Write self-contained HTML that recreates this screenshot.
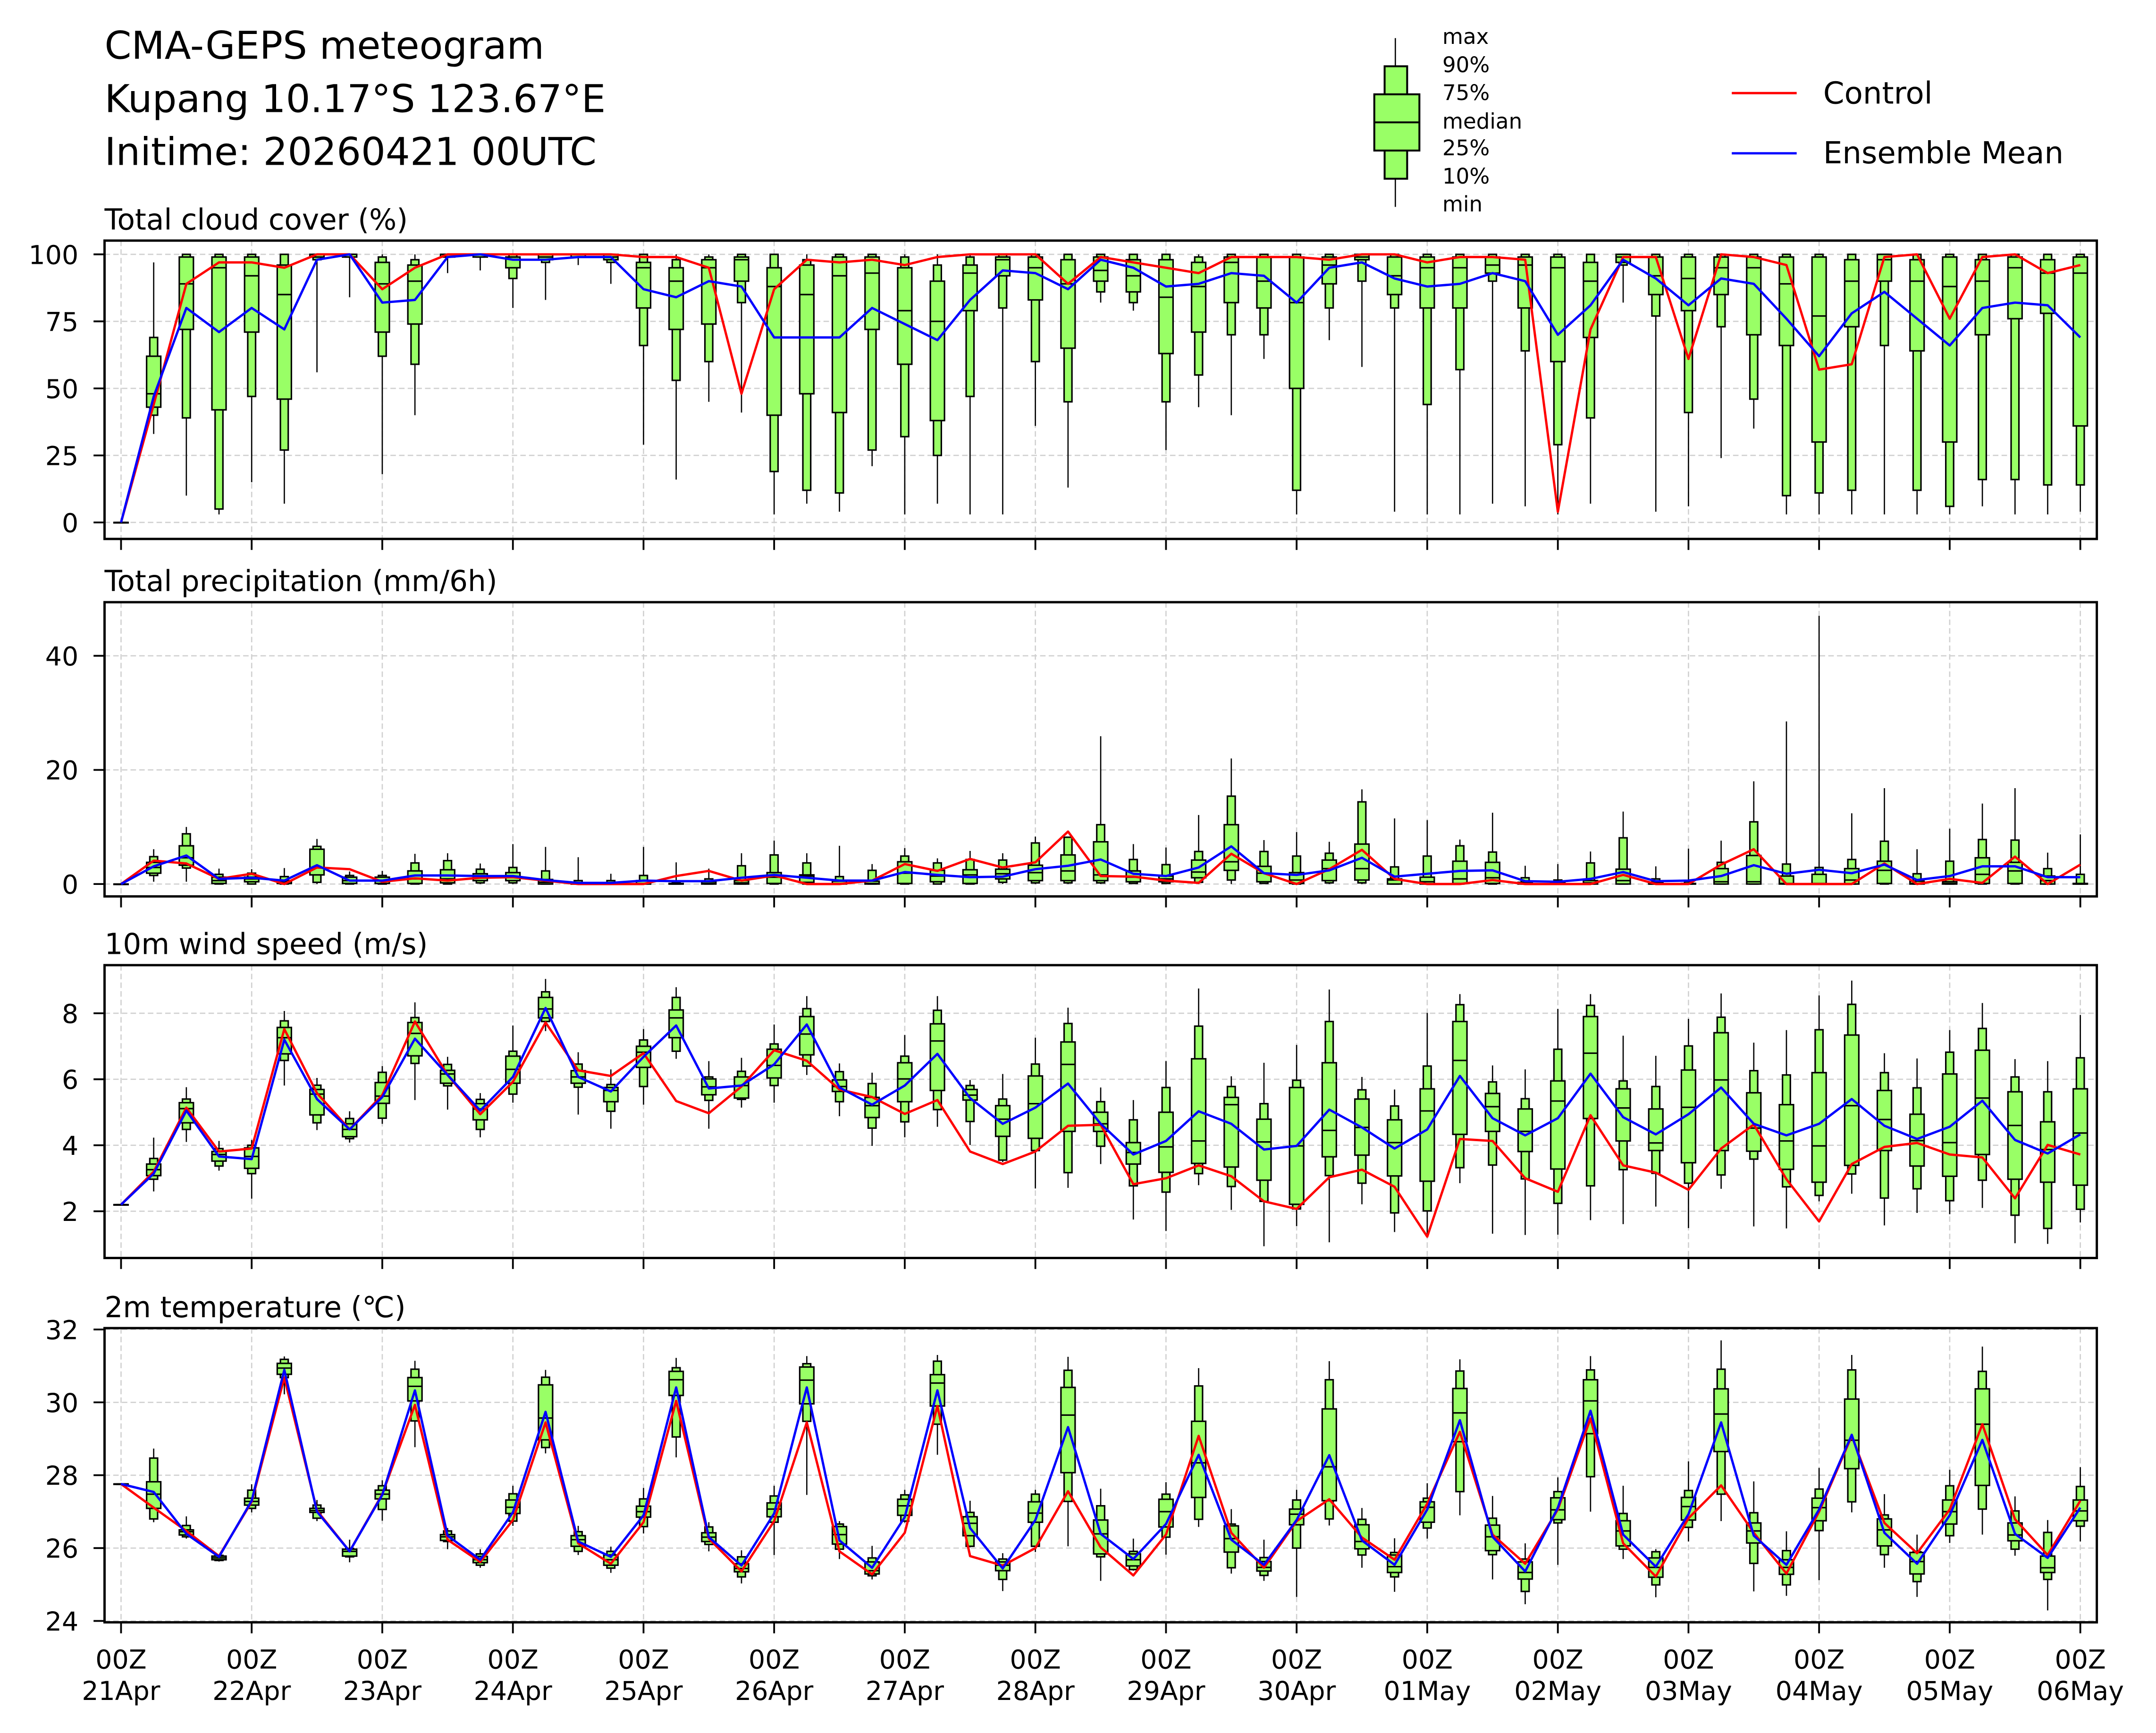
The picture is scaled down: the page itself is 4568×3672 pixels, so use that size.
<!DOCTYPE html>
<html><head><meta charset="utf-8"><title>CMA-GEPS meteogram</title>
<style>html,body{margin:0;padding:0;background:#fff}svg{display:block}text{font-family:"DejaVu Sans","Liberation Sans",sans-serif}</style>
</head><body>
<svg id="chart" xmlns="http://www.w3.org/2000/svg" width="4568" height="3672" viewBox="0 0 1568 1260.5">
<rect x="0" y="0" width="1568" height="1260.5" fill="#fff"/>
<g font-size="28" fill="#000">
<text x="76" y="42.7">CMA-GEPS meteogram</text>
<text x="76" y="81.5">Kupang 10.17°S 123.67°E</text>
<text x="76" y="120">Initime: 20260421 00UTC</text>
</g>
<g>
<line x1="1014.8" y1="27.7" x2="1014.8" y2="150.5" stroke="#000" stroke-width="0.9"/>
<rect x="1007" y="48.2" width="16.4" height="81.8" fill="#99ff66" stroke="#000" stroke-width="1.4"/>
<rect x="999.5" y="68.6" width="32.8" height="40.9" fill="#99ff66" stroke="#000" stroke-width="1.4"/>
<line x1="999.5" y1="89" x2="1032.3" y2="89" stroke="#000" stroke-width="1.4"/>
<g font-size="15.5" fill="#000">
<text x="1049" y="32">max</text><text x="1049" y="52.6">90%</text><text x="1049" y="72.8">75%</text><text x="1049" y="93.6">median</text><text x="1049" y="113">25%</text><text x="1049" y="133.6">10%</text><text x="1049" y="153.8">min</text>
</g></g>
<g>
<line x1="1259.5" y1="67.7" x2="1306.7" y2="67.7" stroke="#ff0000" stroke-width="1.7"/>
<text x="1326" y="75.3" font-size="22">Control</text>
<line x1="1259.5" y1="111.5" x2="1306.7" y2="111.5" stroke="#0000ff" stroke-width="1.7"/>
<text x="1326" y="118.8" font-size="22">Ensemble Mean</text>
</g>
<g id="panels"></g>
</svg>
<script>
// ---- data: cloud cover (%) ----
const cloudMax=[0,97,100,100,100,100,100,100,100,100,100,100,100,100,100,100,100,100,100,100,100,100,100,100,100,100,100,100,100,100,100,100,100,100,100,100,100,100,100,100,100,100,100,100,100,100,100,100,100,100,100,100,100,100,100,100,100,100,100,100,100];
const cloudP90=[0,69,100,100,100,100,100,100,99,98,100,100,100,100,100,100,100,98,99,100,100,98,100,100,99,96,99,100,100,100,100,100,100,99,100,100,100,100,100,100,100,100,100,100,100,100,100,100,100,100,100,100,100,100,100,100,100,100,100,100,100];
const cloudP75=[0,62,99,99,99,96,100,100,97,96,100,100,99,100,100,100,97,95,98,99,95,96,99,99,95,90,96,99,99,98,99,98,98,97,99,99,99,99,100,99,99,99,99,99,99,97,100,99,99,99,99,99,99,98,100,98,99,98,99,98,99];
const cloudMed=[0,48,89,95,92,85,99,100,89,90,100,100,99,99,100,99,95,90,95,98,88,85,92,93,79,75,93,98,95,89,94,92,84,88,97,90,82,96,99,92,95,95,96,96,95,90,99,92,91,95,95,89,77,90,98,90,88,90,95,93,93];
const cloudP25=[0,43,72,42,71,46,99,99,71,74,99,99,95,98,99,98,80,72,74,90,40,48,41,72,59,38,79,92,83,65,90,86,63,71,82,80,50,89,98,85,80,80,93,80,60,69,97,85,79,85,70,66,30,73,90,64,30,70,76,78,36];
const cloudP10=[0,40,39,5,47,27,98,99,62,59,99,99,91,97,99,97,66,53,60,82,19,12,11,27,32,25,47,80,60,45,86,82,45,55,70,70,12,80,90,80,44,57,90,64,29,39,96,77,41,73,46,10,11,12,66,12,6,16,16,14,14];
const cloudMin=[0,33,10,3,15,7,56,84,18,40,93,94,80,83,96,89,29,16,45,41,3,7,4,21,3,7,3,3,36,13,82,79,27,43,40,61,3,68,58,4,3,3,7,6,3,7,82,4,6,24,35,3,3,3,3,3,3,6,3,3,4];
const cloudCtrl=[0,44,89,97,97,95,100,100,87,95,100,100,100,100,100,100,99,99,95,48,87,98,97,98,96,99,100,100,100,89,99,97,95,93,99,99,99,98,100,100,97,99,99,98,4,72,99,99,61,100,99,96,57,59,99,100,76,99,100,93,96];
const cloudMean=[0,47,80,71,80,72,98,100,82,83,99,100,98,98,99,99,87,84,90,88,69,69,69,80,74,68,83,94,93,87,98,95,88,89,93,92,82,95,97,91,88,89,93,90,70,81,98,91,81,91,89,76,62,78,86,76,66,80,82,81,69];
// ---- data: precipitation (mm/6h) ----
const precMax=[0,6.1,10,2.7,2.6,2.8,7.9,2.2,2.3,5.3,5.4,3.6,7,6.5,4.7,1.8,6.5,3.8,2.7,5.4,7.6,5.4,6.7,3.5,6.3,4.5,5.8,5.4,8.3,8.3,25.9,7,6.4,12.1,22,7.7,9.1,7.4,16.6,11.5,11.2,7.8,12.5,3.2,3.5,5.7,12.7,3.1,6.2,7.6,18,28.5,47,12.4,16.8,6.1,9.7,14.1,16.8,5.5,8.7];
const precP90=[0,4.8,8.8,1.7,1.9,1.3,6.6,1.5,1.5,3.7,4.1,2.6,2.9,2.3,0.6,0.6,1.5,0.3,0.9,3.2,5.1,3.7,1.3,2.4,4.9,3.7,4.3,4.2,7.2,8.2,10.4,4.3,3.4,5.7,15.4,5.7,4.9,5.4,14.4,3,4.9,6.7,5.6,1.1,0.7,3.7,8.1,0.9,0.4,3.8,10.9,3.5,2.9,4.3,7.5,1.8,4,7.8,7.7,2.7,1.7];
const precP75=[0,3.8,6.7,1.2,1.2,0.6,6.1,1.2,1.2,2.3,2.5,1.8,2,0.8,0.2,0.2,0.6,0.1,0.4,0.6,2,1.6,0.5,0.5,3.9,2.4,2.5,2.6,3.3,5.1,7.4,2.3,1.4,4.2,10.4,3.1,2,4.2,7,0.9,1.2,4,3.8,0.3,0.2,0.6,2.6,0.3,0.1,2.7,5,1.4,1.7,2.7,4,0.5,0.4,4.6,3.8,1.4,0.1];
const precMed=[0,2.9,4.6,0.6,0.9,0.4,2.9,0.6,0.6,0.9,0.9,1.2,1.2,0.3,0,0,0.1,0,0.1,0.2,1.2,1.4,0.1,0.1,1.9,1.4,1.6,1.8,2,2.3,1.6,1.2,0.9,2.1,3.9,1.9,0.7,2.7,2.7,0.7,0.4,0.9,1.1,0.1,0,0.2,0.6,0,0,0.4,0.4,0.1,0.1,0.7,2.4,0.1,0.1,1.7,2.3,0.6,0];
const precP25=[0,1.9,3.3,0.1,0.4,0.1,1.6,0.1,0.1,0.1,0.2,0.6,0.6,0,0,0,0,0,0,0,0.1,0.3,0,0,0.1,0.4,0.1,0.9,0.6,0.6,0.6,0.4,0.4,1.1,2.4,0.4,0.1,0.6,0.7,0,0,0.1,0.1,0,0,0,0,0,0,0,0,0,0,0,0.1,0,0,0.1,0.1,0,0];
const precP10=[0,1.5,2.8,0,0,0,0.3,0,0,0,0,0.2,0.2,0,0,0,0,0,0,0,0,0,0,0,0,0,0,0.3,0.2,0.2,0.2,0.1,0.1,0.3,0.7,0.1,0,0.2,0.2,0,0,0,0,0,0,0,0,0,0,0,0,0,0,0,0,0,0,0,0,0,0];
const precMin=[0,0.4,0.4,0,0,0,0,0,0,0,0,0,0,0,0,0,0,0,0,0,0,0,0,0,0,0,0,0,0,0,0,0,0,0,0,0,0,0,0,0,0,0,0,0,0,0,0,0,0,0,0,0,0,0,0,0,0,0,0,0,0];
const precCtrl=[0,4.1,3.6,0.9,1.8,0,2.9,2.6,0.4,1,0.6,1.1,1.2,0.6,0,0,0,1.4,2.3,0.6,1.5,0,0,0.6,3.5,2.3,4.4,2.9,3.8,9.2,1.4,1.3,0.6,0.2,5.3,1.9,0,2.6,6,0.9,0,0,0.7,0,0,0,1.6,0,0,3.4,6.1,0,0,0,3.6,0,0.9,0.2,4.8,0,3.4];
const precMean=[0,3.1,5,0.9,1.1,0.6,3.3,0.6,0.6,1.5,1.5,1.4,1.4,0.7,0.2,0.2,0.6,0.5,0.5,1.1,1.6,1.1,0.6,0.6,2.1,1.6,1.2,1.3,2.6,3.2,4.3,1.8,1.4,2.9,6.6,1.9,1.6,2.4,4.6,1.3,1.8,2.3,2.4,0.5,0.4,0.9,2.1,0.5,0.6,1.4,3.3,1.8,2.5,1.9,3.4,0.7,1.4,3.1,3.1,1.2,1.2];
// ---- data: 10m wind speed (m/s) ----
const windMax=[2.2,4.23,5.76,4.13,4.16,8.07,6.04,5.03,6.4,8.33,6.68,5.58,7.63,9.04,6.82,6.3,7.52,8.79,6.55,6.65,7.66,8.52,6.48,6.2,7.34,8.52,5.98,6.16,7.26,8.17,5.75,5.37,6.55,8.75,6.09,6.5,7.04,8.72,6.07,5.69,8.01,8.58,6.42,6.3,8.13,8.58,7.32,6.71,7.83,8.6,7.11,7.49,8.54,8.99,6.79,6.63,7.49,8.31,6.61,6.55,7.95];
const windP90=[2.2,3.6,5.4,3.9,4.0,7.77,5.82,4.81,6.21,7.87,6.45,5.39,6.85,8.65,6.46,5.84,7.19,8.48,6.07,6.24,7.07,8.14,6.23,5.87,6.7,8.09,5.81,5.4,6.46,7.69,5.32,4.77,5.75,7.61,5.78,5.26,5.97,7.75,5.68,5.19,6.4,8.26,5.92,5.41,6.91,8.24,5.95,5.78,7.01,7.88,6.26,6.13,7.5,8.27,6.2,5.74,6.82,7.54,6.07,5.62,6.65];
const windP75=[2.2,3.43,5.29,3.81,3.92,7.57,5.69,4.65,5.9,7.72,6.27,5.26,6.7,8.48,6.26,5.75,7.0,8.1,6.01,6.07,6.91,7.9,5.98,5.45,6.5,7.68,5.69,5.2,6.1,7.13,5.0,4.08,5.0,6.62,5.45,4.79,5.75,6.5,5.4,4.77,5.71,7.75,5.57,5.1,5.95,7.9,5.71,5.1,6.28,7.41,5.59,5.23,6.2,7.34,5.66,4.94,6.16,6.88,5.62,4.71,5.71];
const windMed=[2.2,3.26,5.11,3.72,3.66,7.26,5.55,4.48,5.49,7.39,6.16,5.1,6.3,8.13,6.07,5.66,6.82,7.86,5.77,5.81,6.42,7.37,5.78,5.2,6.01,7.16,5.52,4.79,5.26,6.45,4.65,3.78,3.95,4.13,5.23,4.1,3.98,4.45,4.54,4.08,5.04,6.57,5.17,4.42,5.34,6.79,5.13,4.07,5.15,5.98,4.52,4.13,3.98,5.2,4.78,4.14,4.08,5.43,4.6,3.87,4.37];
const windP25=[2.2,3.08,4.68,3.52,3.3,6.77,4.92,4.26,5.27,6.71,5.88,4.77,5.88,7.86,5.88,5.32,6.36,7.26,5.53,5.43,6.04,6.74,5.63,4.84,5.32,5.66,5.37,4.27,4.21,4.42,4.42,3.43,3.18,3.45,3.34,2.94,2.21,3.65,3.7,3.07,2.91,4.33,4.42,3.81,3.28,4.81,4.13,3.84,3.47,3.84,3.82,3.27,2.88,3.39,3.84,3.37,3.06,3.72,2.97,2.88,2.79];
const windP10=[2.2,2.97,4.48,3.37,3.14,6.57,4.68,4.2,4.82,6.48,5.8,4.48,5.55,7.75,5.76,5.03,5.78,6.85,5.36,5.39,5.81,6.4,5.32,4.52,4.71,5.08,4.72,3.55,3.84,3.17,3.97,2.77,2.58,3.14,2.75,2.3,2.07,3.08,2.85,1.95,2.01,3.32,3.4,2.98,2.24,2.77,3.26,3.15,2.85,3.1,3.58,2.74,2.48,3.13,2.4,2.68,2.32,2.94,1.88,1.48,2.06];
const windMin=[2.2,2.6,4.1,3.23,2.38,5.81,4.46,4.08,4.65,5.37,5.08,4.24,5.29,7.46,4.93,4.5,5.23,6.62,4.5,5.14,5.29,6.13,4.88,3.98,4.24,4.56,4.01,3.49,2.69,2.71,3.43,1.75,1.4,2.79,2.04,0.94,1.55,1.06,2.21,1.37,1.23,2.85,1.32,1.28,1.29,1.73,1.61,2.14,1.49,2.68,1.54,1.48,2.3,2.53,1.57,1.95,1.91,2.1,1.03,1.01,1.66];
const windCtrl=[2.2,3.2,5.14,3.81,3.9,7.52,5.58,4.48,5.52,7.75,6.13,4.94,5.92,7.72,6.27,6.1,6.79,5.34,4.97,5.78,6.88,6.56,5.69,5.46,4.95,5.37,3.81,3.43,3.81,4.59,4.62,2.82,3.0,3.39,3.06,2.3,2.07,3.03,3.26,2.74,1.23,4.19,4.13,3.0,2.59,4.91,3.39,3.17,2.65,3.9,4.63,2.97,1.69,3.43,3.95,4.07,3.72,3.63,2.39,4.01,3.72];
const windMean=[2.2,3.14,5.05,3.66,3.58,7.2,5.4,4.48,5.46,7.23,6.13,5.05,6.07,8.16,6.07,5.63,6.68,7.63,5.72,5.81,6.45,7.66,5.75,5.23,5.81,6.77,5.43,4.65,5.14,5.87,4.65,3.72,4.13,5.03,4.65,3.87,3.98,5.08,4.54,3.9,4.48,6.1,4.82,4.3,4.82,6.17,4.85,4.33,4.94,5.75,4.65,4.3,4.65,5.4,4.59,4.19,4.56,5.35,4.16,3.75,4.33];
// ---- data: 2m temperature (C) ----
const tempMax=[27.76,28.73,26.87,25.81,27.75,31.26,27.32,26.23,27.86,31.14,26.55,25.97,27.71,30.89,26.61,26.04,27.65,31.22,26.71,25.94,27.71,31.27,26.74,26.06,27.6,31.3,27.3,25.86,27.6,31.25,27.63,26.26,27.81,30.94,27.07,26.23,27.6,31.13,27.1,26.27,27.78,31.18,27.43,26.13,27.94,31.27,27.71,25.97,28.38,31.7,27.83,26.46,28.2,31.3,27.48,26.37,28.15,31.53,27.42,26.77,28.22];
const tempP90=[27.76,28.47,26.62,25.8,27.59,31.18,27.18,25.99,27.71,30.91,26.47,25.84,27.49,30.69,26.45,25.91,27.35,30.95,26.58,25.76,27.43,31.06,26.66,25.73,27.46,31.13,26.98,25.7,27.48,30.88,27.16,25.91,27.48,30.45,26.66,25.74,27.32,30.62,26.79,25.88,27.37,30.86,26.82,25.7,27.55,30.89,26.95,25.9,27.58,30.91,26.97,25.93,27.62,30.89,26.91,25.9,27.71,30.85,27.02,26.43,27.69];
const tempP75=[27.76,27.82,26.5,25.78,27.37,31.07,27.09,25.97,27.59,30.68,26.37,25.77,27.32,30.48,26.34,25.81,27.15,30.85,26.42,25.57,27.24,30.97,26.59,25.62,27.34,30.76,26.86,25.62,27.27,30.41,26.77,25.84,27.34,29.48,26.61,25.63,27.07,29.82,26.64,25.81,27.27,30.38,26.63,25.62,27.38,30.62,26.75,25.73,27.39,30.37,26.69,25.68,27.37,30.09,26.8,25.88,27.32,30.37,26.69,25.78,27.32];
const tempMed=[27.76,27.48,26.45,25.73,27.28,30.94,27.03,25.91,27.48,30.44,26.31,25.68,27.12,29.57,26.23,25.68,27.0,30.62,26.3,25.44,27.07,30.61,26.37,25.38,27.16,30.53,26.68,25.53,26.96,29.65,26.39,25.68,27.0,28.34,26.26,25.47,26.93,28.23,26.18,25.49,27.12,29.71,26.31,25.33,27.05,30.04,26.47,25.47,27.14,29.68,26.47,25.47,27.11,28.96,26.5,25.63,27.0,29.4,26.36,25.46,27.02];
const tempP25=[27.76,27.09,26.36,25.68,27.18,30.77,26.98,25.78,27.35,30.04,26.21,25.6,26.95,28.97,26.05,25.53,26.85,30.19,26.18,25.35,26.86,29.96,26.11,25.29,26.9,29.9,26.34,25.38,26.71,28.07,25.84,25.51,26.58,27.39,25.89,25.37,26.64,27.3,25.98,25.33,26.71,28.92,25.93,25.15,26.78,29.14,26.06,25.2,26.77,28.65,26.14,25.28,26.75,28.18,26.06,25.29,26.66,27.72,26.2,25.33,26.75];
const tempP10=[27.76,26.8,26.31,25.66,27.09,30.68,26.82,25.76,27.06,29.49,26.18,25.53,26.74,28.76,25.91,25.45,26.59,29.05,26.1,25.21,26.71,29.48,25.97,25.24,26.74,29.4,26.05,25.14,26.05,27.28,25.76,25.41,26.3,26.79,25.46,25.25,26.0,26.8,25.81,25.21,26.55,27.55,25.82,24.81,26.69,27.96,25.97,24.99,26.57,27.48,25.58,24.99,26.48,27.27,25.82,25.08,26.34,27.07,25.97,25.14,26.6];
const tempMin=[27.76,26.71,26.26,25.63,26.98,30.22,26.74,25.61,26.75,28.77,25.97,25.46,26.61,28.6,25.81,25.32,26.4,28.49,25.91,25.03,25.81,27.46,25.7,25.14,26.7,28.56,26.02,24.82,25.89,26.05,25.1,25.38,25.82,26.58,25.3,25.1,24.66,26.62,25.46,24.8,26.26,26.9,25.14,24.46,25.54,27.0,25.7,24.65,26.18,26.74,24.81,24.69,25.12,26.98,25.46,24.66,26.14,26.37,25.79,24.29,26.18];
const tempCtrl=[27.76,27.11,26.47,25.78,27.27,30.68,27.03,25.91,27.48,29.93,26.23,25.62,26.77,29.45,26.13,25.57,26.71,30.04,26.26,25.36,26.74,29.45,25.91,25.28,26.42,29.9,25.78,25.52,26.0,27.56,26.02,25.25,26.37,29.08,26.42,25.46,26.74,27.34,26.29,25.68,27.22,29.19,26.37,25.57,27.06,29.56,26.13,25.22,26.82,27.72,26.42,25.3,27.0,29.08,26.69,25.86,27.06,29.4,26.79,25.81,27.3];
const tempMean=[27.76,27.54,26.39,25.76,27.3,30.89,27.0,25.91,27.46,30.33,26.34,25.68,26.98,29.74,26.18,25.76,26.9,30.41,26.3,25.52,26.95,30.41,26.21,25.46,26.85,30.33,26.55,25.44,26.77,29.32,26.39,25.7,26.66,28.56,26.23,25.54,26.77,28.55,26.21,25.54,27.06,29.51,26.31,25.36,27.11,29.77,26.37,25.49,26.93,29.45,26.34,25.54,27.06,29.11,26.42,25.57,26.9,28.97,26.39,25.73,27.11];
// ---- axes config ----
const cloudTicks=[0,25,50,75,100];
const precTicks=[0,20,40];
const windTicks=[2,4,6,8];
const tempTicks=[24,26,28,30,32];
const dayLabels=["21Apr","22Apr","23Apr","24Apr","25Apr","26Apr","27Apr","28Apr","29Apr","30Apr","01May","02May","03May","04May","05May","06May"];

const NS="http://www.w3.org/2000/svg";
const root=document.getElementById('panels');
const AX_L=76,AX_R=1525;
function xs(i){return 88+23.75*i;}
function mk(tag,attrs,parent){const e=document.createElementNS(NS,tag);for(const k in attrs)e.setAttribute(k,attrs[k]);(parent||root).appendChild(e);return e;}

const panels=[
 {key:'cloud',title:'Total cloud cover (%)',top:175,bot:392,v0:0,y0:380,v1:100,y1:185,ticks:cloudTicks,d:[cloudMax,cloudP90,cloudP75,cloudMed,cloudP25,cloudP10,cloudMin],ctrl:cloudCtrl,mean:cloudMean},
 {key:'precip',title:'Total precipitation (mm/6h)',top:438,bot:652,v0:0,y0:643,v1:40,y1:477,ticks:precTicks,d:[precMax,precP90,precP75,precMed,precP25,precP10,precMin],ctrl:precCtrl,mean:precMean},
 {key:'wind',title:'10m wind speed (m/s)',top:702,bot:915,v0:2,y0:881,v1:8,y1:737,ticks:windTicks,d:[windMax,windP90,windP75,windMed,windP25,windP10,windMin],ctrl:windCtrl,mean:windMean},
 {key:'temp',title:'2m temperature (\u2103)',top:966,bot:1180,v0:24,y0:1179,v1:32,y1:967,ticks:tempTicks,d:[tempMax,tempP90,tempP75,tempMed,tempP25,tempP10,tempMin],ctrl:tempCtrl,mean:tempMean}
];

panels.forEach((p,pi)=>{
 const ys=v=>p.y0+(v-p.v0)*(p.y1-p.y0)/(p.v1-p.v0);
 const g=mk('g',{});
 
 
 const t=mk('text',{x:76,y:p.top-8,'font-size':'21'},g);t.textContent=p.title;
 
 
 for(let d=0;d<16;d++){const gl=mk('line',{x1:xs(d*4),x2:xs(d*4),y1:p.top,y2:p.bot,stroke:'#d0d0d0','stroke-width':'0.9','stroke-dasharray':'4 2.3'},g);
  
  }
 p.ticks.forEach(v=>{const y=ys(v);
  const gl=mk('line',{x1:AX_L,x2:AX_R,y1:y,y2:y,stroke:'#d0d0d0','stroke-width':'0.9','stroke-dasharray':'4 2.3'},g);
  
  
  mk('line',{x1:AX_L-8,x2:AX_L,y1:y,y2:y,stroke:'#000','stroke-width':'1.3'},g);
  const tl=mk('text',{x:57,y:y+7,'font-size':'19','text-anchor':'end'},g);tl.textContent=v;
  
  });
 const n=p.d[0].length;
 for(let i=0;i<n;i++){
  const x=xs(i);const [mx,p90,p75,md,p25,p10,mn]=p.d.map(a=>a[i]);
  const bg=mk('g',{},g);
  
  
  mk('line',{x1:x,x2:x,y1:ys(mn),y2:ys(mx),stroke:'#000','stroke-width':'0.9'},bg);
  mk('rect',{x:x-2.85,y:ys(p90),width:5.7,height:Math.max(0.3,ys(p10)-ys(p90)),fill:'#99ff66',stroke:'#000','stroke-width':'1.1'},bg);
  mk('rect',{x:x-5.15,y:ys(p75),width:10.3,height:Math.max(0.3,ys(p25)-ys(p75)),fill:'#99ff66',stroke:'#000','stroke-width':'1.1'},bg);
  mk('line',{x1:x-5.15,x2:x+5.15,y1:ys(md),y2:ys(md),stroke:'#000','stroke-width':'1.1'},bg);
 }
 const pts=a=>a.map((v,i)=>xs(i).toFixed(2)+','+ys(v).toFixed(2)).join(' ');
 const cl=mk('polyline',{points:pts(p.ctrl),fill:'none',stroke:'#ff0000','stroke-width':'1.7','stroke-linejoin':'round'},g);
 
 
 const ml=mk('polyline',{points:pts(p.mean),fill:'none',stroke:'#0000ff','stroke-width':'1.7','stroke-linejoin':'round'},g);
 
 
 const fr=mk('rect',{x:AX_L,y:p.top,width:AX_R-AX_L,height:p.bot-p.top,fill:'none',stroke:'#000','stroke-width':'1.7'},g);
 
 
 for(let d=0;d<16;d++){mk('line',{x1:xs(d*4),x2:xs(d*4),y1:p.bot,y2:p.bot+8,stroke:'#000','stroke-width':'1.3'},g);
  if(pi===3){
   const a=mk('text',{x:xs(d*4),y:1213.7,'font-size':'19','text-anchor':'middle'},g);a.textContent='00Z';
   
   
   const b=mk('text',{x:xs(d*4),y:1236.4,'font-size':'19','text-anchor':'middle'},g);b.textContent=dayLabels[d];
   
   
  }}
});
</script>
</body></html>
